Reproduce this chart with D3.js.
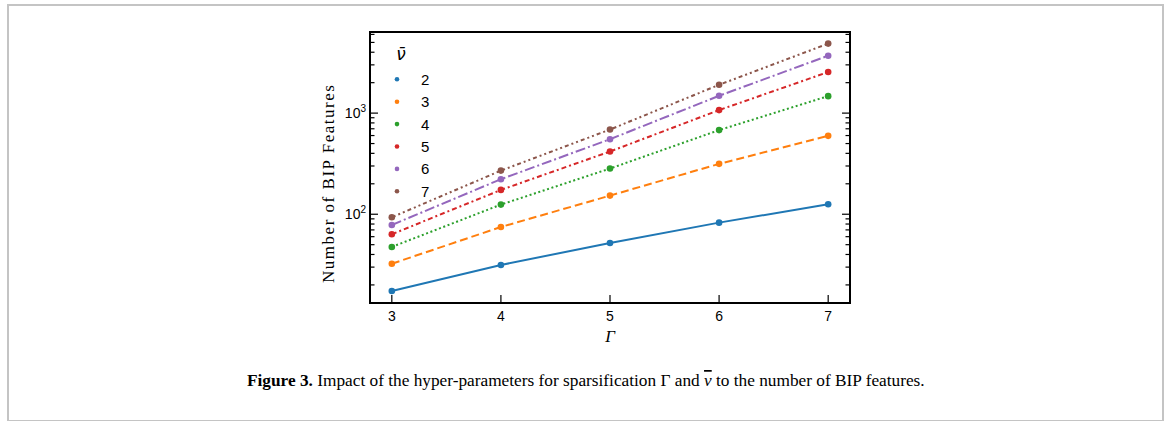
<!DOCTYPE html>
<html>
<head>
<meta charset="utf-8">
<script src="https://cdn.jsdelivr.net/npm/d3@7"></script>
<style>
  html, body { margin: 0; padding: 0; background: #fff; }
  svg { display: block; }
</style>
</head>
<body>
<svg id="chart"></svg>
<script>
// values
var gammas = [3, 4, 5, 6, 7];
var nuLabels = ["2", "3", "4", "5", "6", "7"];
var nu2 = [17.4, 31.5, 52, 82.6, 125.6];
var nu3 = [32.4, 74.8, 152.8, 315, 596];
var nu4 = [47.5, 124.5, 283, 679, 1472];
var nu5 = [63.4, 174, 417, 1071, 2548];
var nu6 = [78.3, 222, 552, 1483, 3697];
var nu7 = [93.3, 270, 688, 1905, 4866];
var xTicks = [3, 4, 5, 6, 7];
var yMajor = [100, 1000];

var series = [nu2, nu3, nu4, nu5, nu6, nu7];
var colors = ["#1f77b4", "#ff7f0e", "#2ca02c", "#d62728", "#9467bd", "#8c564b"];
var dashes = [null, "8,4", "2,2.6", "5,3,2,3", "10,3,2,3", "4,3,2,3,2,3"];

var W = 1170, H = 421;
var svg = d3.select("#chart").attr("width", W).attr("height", H);

// outer frame
svg.append("rect")
    .attr("x", 8).attr("y", 5)
    .attr("width", 1155).attr("height", 416)
    .attr("fill", "none")
    .attr("stroke", "#c4c4c4")
    .attr("stroke-width", 2);

var plot = {left: 370, right: 850, top: 32, bottom: 303};

var x = d3.scaleLinear()
    .domain([2.8, 7.2])
    .range([plot.left, plot.right]);

var y = d3.scaleLog()
    .domain([13.25, 6340])
    .range([plot.bottom, plot.top]);

var g = svg.append("g");

// minor ticks on log axis
var minor = [];
[10, 100, 1000].forEach(function(dec) {
    for (var k = 2; k <= 9; k++) {
        var v = dec * k;
        if (v >= y.domain()[0] && v <= y.domain()[1]) minor.push(v);
    }
});

var tickG = g.append("g").attr("stroke", "#000").attr("stroke-width", 1.2);

// y ticks, both sides, pointing in
[plot.left, plot.right].forEach(function(xx, side) {
    var dir = side === 0 ? 1 : -1;
    tickG.selectAll(null)
        .data(yMajor)
        .enter()
        .append("line")
            .attr("x1", xx).attr("x2", xx + dir * 8)
            .attr("y1", function(d) { return y(d); })
            .attr("y2", function(d) { return y(d); });
    tickG.selectAll(null)
        .data(minor)
        .enter()
        .append("line")
            .attr("x1", xx).attr("x2", xx + dir * 4.5)
            .attr("y1", function(d) { return y(d); })
            .attr("y2", function(d) { return y(d); });
});

// x ticks, pointing in
tickG.selectAll(null)
    .data(xTicks)
    .enter()
    .append("line")
        .attr("x1", function(d) { return x(d); })
        .attr("x2", function(d) { return x(d); })
        .attr("y1", plot.bottom)
        .attr("y2", plot.bottom - 8);

// tick labels
g.selectAll("text.xt")
    .data(xTicks)
    .enter()
    .append("text")
        .attr("class", "xt")
        .attr("x", function(d) { return x(d); })
        .attr("y", 321)
        .attr("text-anchor", "middle")
        .style("font-family", "'Liberation Sans', Arial, sans-serif")
        .style("font-size", "14px")
        .text(function(d) { return d; });

var yl = g.selectAll("text.yt")
    .data(yMajor)
    .enter()
    .append("text")
        .attr("class", "yt")
        .attr("x", 366)
        .attr("y", function(d) { return y(d) + 5; })
        .attr("text-anchor", "end")
        .style("font-family", "'Liberation Sans', Arial, sans-serif")
        .style("font-size", "14px");
yl.append("tspan").text("10");
yl.append("tspan")
    .attr("dy", -6)
    .style("font-size", "10px")
    .text(function(d) { return Math.round(Math.log10(d)); });

// lines
var line = d3.line()
    .x(function(d, i) { return x(gammas[i]); })
    .y(function(d) { return y(d); });

var sg = g.selectAll("g.series")
    .data(series)
    .enter()
    .append("g")
        .attr("class", "series");

sg.append("path")
    .attr("d", function(d) { return line(d); })
    .attr("fill", "none")
    .attr("stroke", function(d, i) { return colors[i]; })
    .attr("stroke-width", 2)
    .attr("stroke-dasharray", function(d, i) { return dashes[i]; });

sg.selectAll("circle")
    .data(function(d, i) { return d.map(function(v, j) { return {v: v, j: j, c: colors[i]}; }); })
    .enter()
    .append("circle")
        .attr("cx", function(d) { return x(gammas[d.j]); })
        .attr("cy", function(d) { return y(d.v); })
        .attr("r", 3.3)
        .attr("fill", function(d) { return d.c; });

// frame of axes
g.append("rect")
    .attr("x", plot.left).attr("y", plot.top)
    .attr("width", plot.right - plot.left)
    .attr("height", plot.bottom - plot.top)
    .attr("fill", "none")
    .attr("stroke", "#000")
    .attr("stroke-width", 2);

// legend
var legend = g.append("g").attr("class", "legend");
legend.append("text")
    .attr("x", 401)
    .attr("y", 60)
    .attr("text-anchor", "middle")
    .style("font-family", "'DejaVu Sans', sans-serif")
    .style("font-style", "italic")
    .style("font-size", "17px")
    .text("\u03BD\u0304");

var li = legend.selectAll("g.item")
    .data(nuLabels)
    .enter()
    .append("g")
        .attr("class", "item")
        .attr("transform", function(d, i) { return "translate(" + [397, 79.3 + i * 22.4] + ")"; });
li.append("circle")
    .attr("r", 2.3)
    .attr("fill", function(d, i) { return colors[i]; });
li.append("text")
    .attr("x", 24)
    .attr("y", 5.5)
    .style("font-family", "'Liberation Sans', Arial, sans-serif")
    .style("font-size", "15px")
    .text(function(d) { return d; });

// axis titles
g.append("text")
    .attr("transform", "translate(334,184) rotate(-90)")
    .attr("text-anchor", "middle")
    .attr("textLength", 198)
    .attr("lengthAdjust", "spacing")
    .style("font-family", "'Liberation Serif', 'Times New Roman', serif")
    .style("font-size", "17px")
    .text("Number of BIP  Features");

g.append("text")
    .attr("x", x(5))
    .attr("y", 342)
    .attr("text-anchor", "middle")
    .style("font-family", "'Liberation Serif', serif")
    .style("font-style", "italic")
    .style("font-size", "17px")
    .text("\u0393");

// caption
var cap = svg.append("text")
    .attr("x", 247)
    .attr("y", 386)
    .style("font-family", "'Liberation Serif', 'Times New Roman', serif")
    .style("font-size", "17.3px");
cap.append("tspan").style("font-weight", "bold").text("Figure 3.");
cap.append("tspan").text(" Impact of the hyper-parameters for sparsification \u0393 and ");
cap.append("tspan")
    .style("font-style", "italic")
    .style("text-decoration", "overline")
    .text("\u03BD");
cap.append("tspan").text(" to the number of BIP features.");
</script>
</body>
</html>
